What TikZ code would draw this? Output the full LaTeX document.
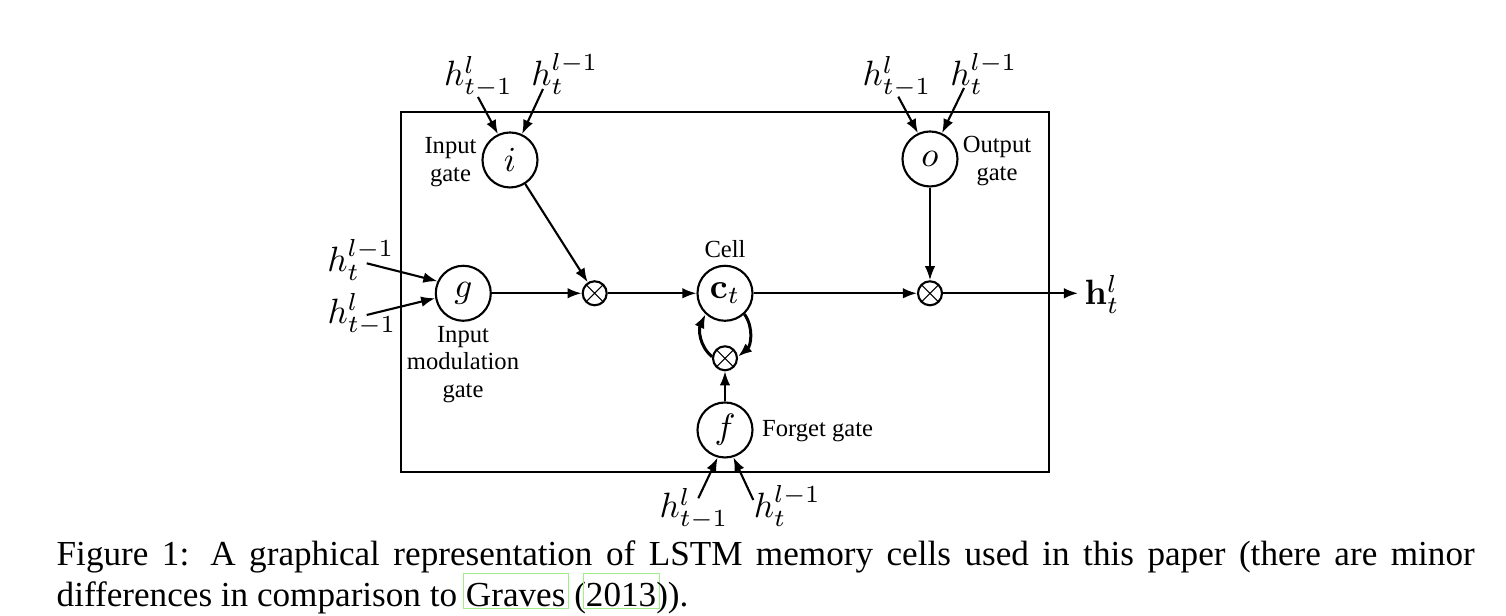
\documentclass[tikz,border=0pt]{standalone}
\usepackage[no-math]{fontspec}
\setmainfont{Liberation Serif}
\usepackage{amsmath, amssymb}
\usetikzlibrary{arrows.meta, positioning}
\definecolor{linkgreen}{RGB}{160,238,140}
% hyperref-like border round a citation, width of the text kept
\newcommand{\linkbox}[1]{\begingroup\setlength{\fboxsep}{0pt}\setlength{\fboxrule}{0.3pt}%
  \kern-0.95pt\textcolor{linkgreen}{\fbox{\color{black}\rule[-0.3pt]{0pt}{9.7pt}\kern0.65pt#1\kern0.65pt}}\kern-0.95pt\endgroup}

\begin{document}
\begin{tikzpicture}[
    gatenode/.style={circle, draw, line width=0.6pt, minimum size=0.55cm, inner sep=0pt},
    mulnode/.style={circle, draw, line width=0.6pt, minimum size=0.24cm, inner sep=0pt,
      path picture={\draw[line width=0.3pt] (path picture bounding box.south west) -- (path picture bounding box.north east)
        (path picture bounding box.north west) -- (path picture bounding box.south east);}},
    arr/.style={-{Latex[length=4pt,width=3pt]}, line width=0.6pt},
    lbl/.style={font=\fontsize{7}{7.8}\selectfont, align=center, inner sep=0pt},
    hin/.style={anchor=base, inner sep=0pt}
]
    \useasboundingbox (0,0) rectangle (15.06,6.16);
    % memory block
    \draw[line width=0.6pt] (4.01,1.44) rectangle (10.49,5.04);

    % gates and cell
    \node[gatenode] (igate) at (5.10,4.56) {$i$};
    \node[gatenode] (ogate) at (9.30,4.57) {$o$};
    \node[gatenode] (ggate) at (4.633,3.227) {$g$};
    \node[gatenode] (cell) at (7.25,3.227) {$\mathbf{c}_t$};
    \node[gatenode] (fgate) at (7.25,1.86) {$f$};
    \node[mulnode] (mulI) at (5.947,3.227) {};
    \node[mulnode] (mulF) at (7.25,2.577) {};
    \node[mulnode] (mulO) at (9.30,3.227) {};

    % labels
    \node[lbl] (ilbl) at (4.505,4.54) {Input\\gate};
    \node[lbl] (olbl) at (9.97,4.55) {Output\\gate};
    \node[lbl, anchor=base] (clbl) at (7.25,3.58) {Cell};
    \node[lbl] (glbl) at (4.63,2.515) {Input\\modulation\\gate};
    \node[lbl, anchor=base west] (flbl) at (7.615,1.793) {Forget gate};

    % inputs
    \node[hin] (ia) at (4.785,5.30) {$h^l_{t-1}$};
    \node[hin] (ib) at (5.65,5.30) {$h^{l-1}_t$};
    \node[hin] (oa) at (8.97,5.30) {$h^l_{t-1}$};
    \node[hin] (ob) at (9.84,5.30) {$h^{l-1}_t$};
    \node[hin] (ga) at (3.61,3.443) {$h^{l-1}_t$};
    \node[hin] (gb) at (3.62,2.927) {$h^l_{t-1}$};
    \node[hin] (fa) at (6.94,0.98) {$h^l_{t-1}$};
    \node[hin] (fb) at (7.875,0.98) {$h^{l-1}_t$};
    \coordinate (ia0) at (4.78,5.19);
    \coordinate (ib0) at (5.43,5.27);
    \coordinate (oa0) at (8.983,5.193);
    \coordinate (ob0) at (9.64,5.28);
    \coordinate (ga0) at (3.667,3.527);
    \coordinate (gb0) at (3.667,3.01);
    \coordinate (fa0) at (6.983,1.177);
    \coordinate (fb0) at (7.533,1.16);
    \draw[arr] (ia0) -- (igate.115);
    \draw[arr] (ib0) -- (igate.65);
    \draw[arr] (oa0) -- (ogate.115);
    \draw[arr] (ob0) -- (ogate.65);
    \draw[arr] (ga0) -- (ggate.155);
    \draw[arr] (gb0) -- (ggate.190);
    \draw[arr] (fa0) -- (fgate.255);
    \draw[arr] (fb0) -- (fgate.287);

    % flow through the cell
    \draw[arr] (igate) -- (mulI);
    \draw[arr] (ggate) -- (mulI);
    \draw[arr] (mulI) -- (cell);
    \draw[arr] (cell) -- (mulO);
    \draw[arr] (ogate) -- (mulO);
    \draw[arr] (fgate) -- (mulF);
    \draw[arr, line width=0.85pt] (mulF.173) to[out=140, in=245] (cell.227);
    \draw[arr, line width=0.85pt] (cell.313) to[out=-55, in=40] (mulF.7);
    \coordinate (hout) at (10.78,3.227);
    \draw[arr] (mulO) -- (hout);
    \node[anchor=base west, inner sep=0pt] (hlbl) at (10.84,3.11) {$\mathbf{h}^l_t$};

    % caption
    \node[anchor=base west, inner sep=0pt, text width=14.18cm, align=justify, font=\fontsize{10}{11.7}\selectfont] (cap1) at (0.56,0.50)
      {{\parfillskip=0pt Figure 1: A graphical representation of LSTM memory cells used in this paper (there are minor\par}};
    \node[anchor=base west, inner sep=0pt, font=\fontsize{10}{11.7}\selectfont] (cap2) at (0.56,0.09)
      {differences in comparison to \linkbox{Graves} (\linkbox{2013})).};
\end{tikzpicture}
\end{document}
